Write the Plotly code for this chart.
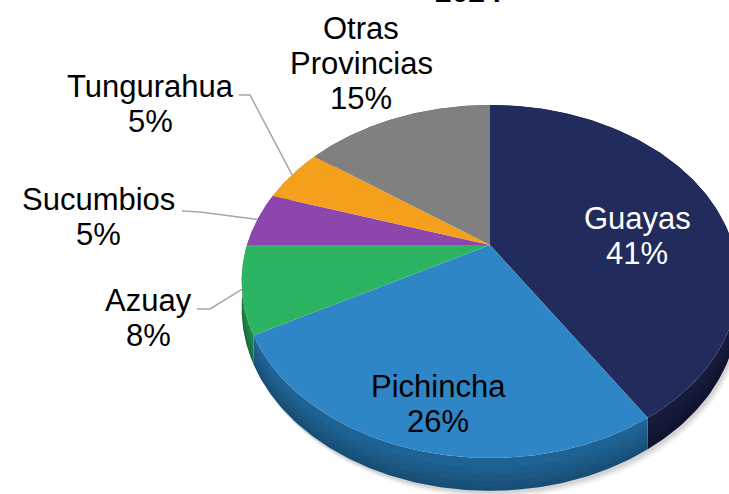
import numpy as np
import plotly.graph_objects as go

# ---------------- data ----------------
categories = ["Guayas", "Pichincha", "Azuay", "Sucumbios", "Tungurahua", "Otras Provincias"]
values = [41, 26, 8, 5, 5, 15]
title_text = "2024"

# ---------------- style ----------------
top_colors = ["#212B5C", "#2E86C6", "#2DB463", "#8C46AE", "#F5A01C", "#808080"]
side_colors = ["#161B3C", "#1F6294", "#1F864A", "#64317E", "#B57614", "#5E5E5E"]
label_colors = ["white", "black", "black", "black", "black", "black"]
FONT = "Liberation Sans, Arial, sans-serif"
FS = 31

# perspective ellipse geometry (pixels of a 729x494 canvas)
CX, CY = 490.0, 245.0
RX, RY, K = 243.0, 169.0, 0.2067
THICK = 26.0

# label layout: line centre positions (x, first line y) and leader elbows
label_layout = {
    "Guayas": dict(x=637, y=218.5),
    "Pichincha": dict(x=438, y=386.5),
    "Azuay": dict(x=148, y=300, elbow=[(210, 309), (197, 309)]),
    "Sucumbios": dict(x=98, y=199, elbow=[(200, 212), (182, 211)]),
    "Tungurahua": dict(x=150, y=86.5, elbow=[(250, 95), (239, 95)]),
    "Otras Provincias": dict(x=361, y=28),
}
LINE_GAP = 35


def proj(u, v):
    d = 1 - K * v
    return CX + RX * u / d, CY + RY * v / d


total = float(sum(values))
cum = np.concatenate([[0.0], np.cumsum(values)]) / total

fig = go.Figure()

# soft shadow under the front rim
for off, alpha in [(7, 0.04), (5, 0.06), (3, 0.08)]:
    th = np.linspace(np.pi * 0.42, np.pi * 1.55, 200)
    u, v = np.sin(th), -np.cos(th)
    x, y = proj(u, v)
    yb = y + THICK / (1 - K * v)
    xs = np.concatenate([x, x[::-1] + off * 0.6])
    ys = np.concatenate([yb - 4, yb[::-1] + off])
    fig.add_trace(go.Scatter(x=xs, y=ys, fill="toself", mode="lines",
                             line=dict(width=0), fillcolor=f"rgba(0,0,0,{alpha})",
                             hoverinfo="skip", showlegend=False))

# side bands (with a smooth darkening toward the bottom)
for i, cat in enumerate(categories):
    th = np.linspace(cum[i], cum[i + 1], 120) * 2 * np.pi
    u, v = np.sin(th), -np.cos(th)
    x, y = proj(u, v)
    depth = THICK / (1 - K * v)
    yb = y + depth
    fig.add_trace(go.Scatter(x=np.concatenate([x, x[::-1]]), y=np.concatenate([y, yb[::-1]]),
                             fill="toself", mode="lines", line=dict(width=0),
                             fillcolor=side_colors[i], hoverinfo="skip", showlegend=False))
    for frac in [0.3, 0.5, 0.7, 0.85]:
        ym = y + frac * depth
        fig.add_trace(go.Scatter(x=np.concatenate([x, x[::-1]]), y=np.concatenate([ym, yb[::-1]]),
                                 fill="toself", mode="lines", line=dict(width=0),
                                 fillcolor="rgba(0,0,0,0.05)", hoverinfo="skip", showlegend=False))

# top faces
for i, cat in enumerate(categories):
    th = np.linspace(cum[i], cum[i + 1], 120) * 2 * np.pi
    u, v = np.sin(th), -np.cos(th)
    x, y = proj(u, v)
    xs = np.concatenate([[CX], x, [CX]])
    ys = np.concatenate([[CY], y, [CY]])
    fig.add_trace(go.Scatter(x=xs, y=ys, fill="toself", mode="lines",
                             line=dict(width=0), fillcolor=top_colors[i],
                             name=cat, hoverinfo="skip", showlegend=False))

# labels and leader lines
annotations = []
for i, cat in enumerate(categories):
    lay = label_layout[cat]
    pct = f"{round(values[i] / total * 100):d}%"
    lines = cat.split(" ") + [pct]
    for j, t in enumerate(lines):
        annotations.append(dict(x=lay["x"], y=lay["y"] + j * LINE_GAP, xref="x", yref="y",
                                text=t, showarrow=False, xanchor="center", yanchor="middle",
                                font=dict(family=FONT, size=FS, color=label_colors[i])))
    if "elbow" in lay:
        mid = (cum[i] + cum[i + 1]) / 2 * 2 * np.pi
        ex, ey = proj(np.sin(mid), -np.cos(mid))
        pts = [(ex, ey)] + lay["elbow"]
        fig.add_trace(go.Scatter(x=[p[0] for p in pts], y=[p[1] for p in pts], mode="lines",
                                 line=dict(color="#A6A6A6", width=1.5),
                                 hoverinfo="skip", showlegend=False))

# title: only its lower edge shows at the top of the frame, as in the reference
annotations.append(dict(x=468, y=10, xref="x", yref="y", text=f"<b>{title_text}</b>",
                        showarrow=False, xanchor="center", yanchor="bottom",
                        font=dict(family=FONT, size=30, color="black")))

fig.update_layout(
    width=729, height=494,
    margin=dict(l=0, r=0, t=0, b=0),
    paper_bgcolor="white", plot_bgcolor="white",
    xaxis=dict(range=[0, 729], visible=False, fixedrange=True),
    yaxis=dict(range=[494, 0], visible=False, fixedrange=True),
    annotations=annotations,
    showlegend=False,
)

fig.write_html("out.html", config={"displayModeBar": False},
               post_script="document.body.style.margin='0';document.body.style.overflow='hidden';")
